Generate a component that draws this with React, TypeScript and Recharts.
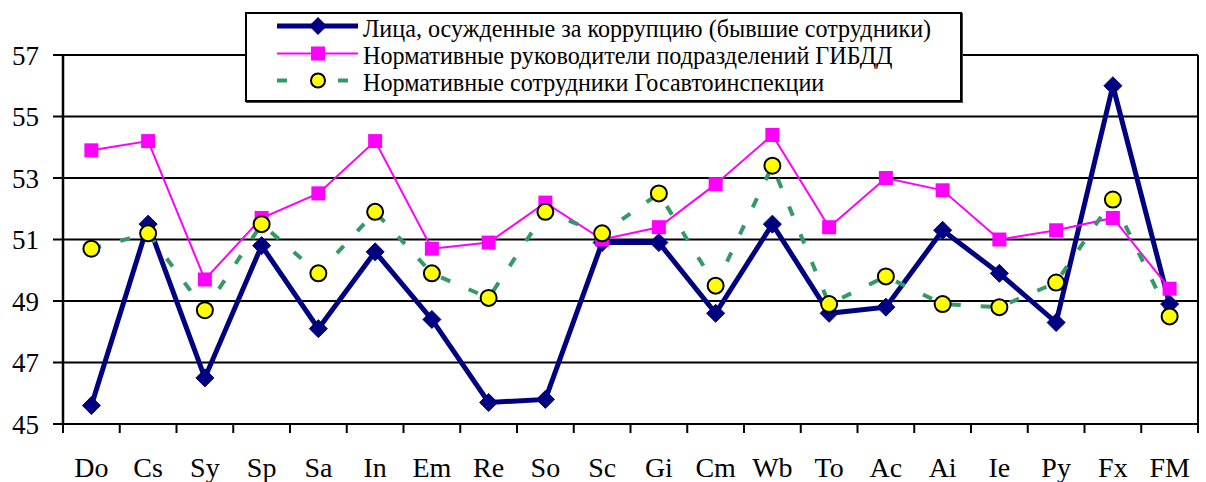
import React from 'react';
import { LineChart, Line, XAxis, YAxis, CartesianGrid, ReferenceLine, Legend } from 'recharts';

const FONT = '"Liberation Serif", "Times New Roman", serif';

const categories = ['Do', 'Cs', 'Sy', 'Sp', 'Sa', 'In', 'Em', 'Re', 'So', 'Sc', 'Gi', 'Cm', 'Wb', 'To', 'Ac', 'Ai', 'Ie', 'Py', 'Fx', 'FM'];

// Лица, осужденные за коррупцию
const convicted = [45.6, 51.5, 46.5, 50.8, 48.1, 50.6, 48.4, 45.7, 45.8, 50.9, 50.9, 48.6, 51.5, 48.6, 48.8, 51.3, 49.9, 48.3, 56.0, 48.9];
// Нормативные руководители
const managers = [53.9, 54.2, 49.7, 51.7, 52.5, 54.2, 50.7, 50.9, 52.2, 51.0, 51.4, 52.8, 54.4, 51.4, 53.0, 52.6, 51.0, 51.3, 51.7, 49.4];
// Нормативные сотрудники
const officers = [50.7, 51.2, 48.7, 51.5, 49.9, 51.9, 49.9, 49.1, 51.9, 51.2, 52.5, 49.5, 53.4, 48.9, 49.8, 48.9, 48.8, 49.6, 52.3, 48.5];

const yTicks = [45, 47, 49, 51, 53, 55, 57];

const seriesNames = [
  'Лица, осужденные за коррупцию (бывшие сотрудники)',
  'Нормативные руководители подразделений ГИБДД',
  'Нормативные сотрудники Госавтоинспекции',
];

const NAVY = '#000080';
const MAGENTA = '#FF00FF';
const GREEN = '#339966';
const YELLOW = '#FFFF00';

const data = categories.map((name, i) => ({
  pos: i + 0.5,
  name,
  convicted: convicted[i],
  managers: managers[i],
  officers: officers[i],
}));

// boundary ticks (tick marks) and centre ticks (labels)
const xTicks: number[] = [];
for (let i = 0; i <= categories.length; i++) {
  xTicks.push(i);
  if (i < categories.length) xTicks.push(i + 0.5);
}

const XTick = (props: any) => {
  const { x, y, payload } = props;
  const v = payload.value;
  if (Number.isInteger(v)) {
    return <line x1={x} x2={x} y1={y} y2={y + 9} stroke="#000" strokeWidth={2} />;
  }
  return (
    <text x={x} y={y + 53} textAnchor="middle" fontSize={28} fontFamily={FONT} fill="#000">
      {categories[Math.floor(v)]}
    </text>
  );
};

const DiamondDot = (props: any) => {
  const { cx, cy, index } = props;
  if (cx == null || cy == null) return null;
  const s = 9;
  return (
    <polygon
      key={`d-${index}`}
      points={`${cx},${cy - s} ${cx + s},${cy} ${cx},${cy + s} ${cx - s},${cy}`}
      fill={NAVY}
      stroke={NAVY}
    />
  );
};

const SquareDot = (props: any) => {
  const { cx, cy, index } = props;
  if (cx == null || cy == null) return null;
  return <rect key={`s-${index}`} x={cx - 7} y={cy - 7} width={14} height={14} fill={MAGENTA} />;
};

const CircleDot = (props: any) => {
  const { cx, cy, index } = props;
  if (cx == null || cy == null) return null;
  return <circle key={`c-${index}`} cx={cx} cy={cy} r={8} fill={YELLOW} stroke="#000" strokeWidth={2} />;
};

const LegendBox = () => (
  <div
    style={{
      border: '2px solid #000',
      background: '#fff',
      boxSizing: 'border-box',
      width: 717,
      height: 90,
      padding: '0.5px 0 0 30px',
      fontFamily: FONT,
      fontSize: 25,
      color: '#000',
      boxShadow: '1px 1px 0 #444',
      textAlign: 'left',
    }}
  >
    {seriesNames.map((name, i) => (
      <div key={name} style={{ display: 'flex', alignItems: 'center', height: 27 }}>
        <svg width={86} height={27} style={{ flex: 'none' }}>
          {i === 0 && (
            <>
              <line x1={0} x2={81} y1={11} y2={11} stroke={NAVY} strokeWidth={5} />
              <polygon points="41,2 50,11 41,20 32,11" fill={NAVY} />
            </>
          )}
          {i === 1 && (
            <>
              <line x1={0} x2={81} y1={11.5} y2={11.5} stroke={MAGENTA} strokeWidth={2} />
              <rect x={34} y={4.5} width={14} height={14} fill={MAGENTA} />
            </>
          )}
          {i === 2 && (
            <>
              <line x1={0} x2={10} y1={11.5} y2={11.5} stroke={GREEN} strokeWidth={4} />
              <line x1={61} x2={71} y1={11.5} y2={11.5} stroke={GREEN} strokeWidth={4} />
              <circle cx={41} cy={11.5} r={7} fill={YELLOW} stroke="#000" strokeWidth={2} />
            </>
          )}
        </svg>
        <span
          style={{
            display: 'inline-block',
            lineHeight: '27px',
            fontFamily: FONT,
            whiteSpace: 'nowrap',
            transform: 'scaleX(0.965)',
            transformOrigin: '0 50%',
          }}
        >
          {name}
        </span>
      </div>
    ))}
  </div>
);

export default function App() {
  return (
    <div style={{ position: 'absolute', left: 0, top: 0, background: '#fff' }}>
      <LineChart width={1206} height={482} data={data} margin={{ top: 55, right: 8, bottom: 0, left: 0 }}>
        <CartesianGrid horizontal vertical={false} stroke="#000" strokeWidth={2} />
        <XAxis
          dataKey="pos"
          type="number"
          domain={[0, categories.length]}
          ticks={xTicks}
          interval={0}
          height={58}
          tickSize={0}
          tickMargin={0}
          tickLine={false}
          tick={<XTick />}
          axisLine={{ stroke: '#000', strokeWidth: 2 }}
        />
        <YAxis
          type="number"
          domain={[45, 57]}
          ticks={yTicks}
          interval={0}
          width={63}
          tickSize={10}
          tickMargin={14}
          tickLine={{ stroke: '#000', strokeWidth: 2 }}
          axisLine={{ stroke: '#000', strokeWidth: 2.5 }}
          tick={{ fill: '#000', fontSize: 27, fontFamily: FONT }}
        />
        <ReferenceLine x={categories.length} stroke="#000" strokeWidth={2} />
        <Legend
          layout="vertical"
          align="center"
          verticalAlign="middle"
          content={<LegendBox />}
          wrapperStyle={{ left: 245, top: 12, width: 717, height: 90 }}
        />
        <Line
          dataKey="convicted"
          name={seriesNames[0]}
          stroke={NAVY}
          strokeWidth={5}
          dot={<DiamondDot />}
          activeDot={false}
          isAnimationActive={false}
        />
        <Line
          dataKey="managers"
          name={seriesNames[1]}
          stroke={MAGENTA}
          strokeWidth={2}
          dot={<SquareDot />}
          activeDot={false}
          isAnimationActive={false}
        />
        <Line
          dataKey="officers"
          name={seriesNames[2]}
          stroke={GREEN}
          strokeWidth={4}
          strokeDasharray="10 20"
          dot={<CircleDot />}
          activeDot={false}
          isAnimationActive={false}
        />
      </LineChart>
    </div>
  );
}
